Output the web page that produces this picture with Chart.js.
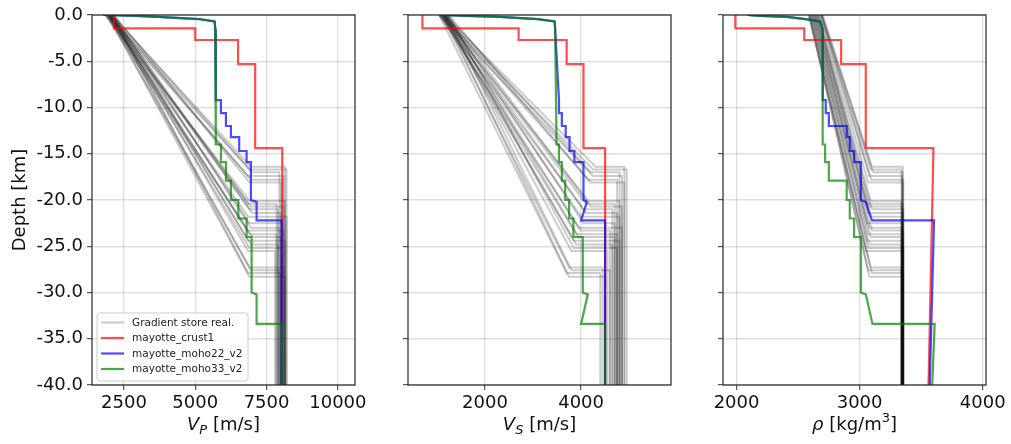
<!DOCTYPE html>
<html>
<head>
<meta charset="utf-8">
<script src="https://cdn.jsdelivr.net/npm/chart.js@4/dist/chart.umd.min.js"></script>
<style>
  html, body { margin: 0; padding: 0; background: #fff; }
  #wrap { position: relative; width: 1011px; height: 444px; }
  #wrap canvas { position: absolute; left: 0; top: 0; }
</style>
</head>
<body>
<div id="wrap">
  <canvas id="vpChart" width="1011" height="444"></canvas>
  <canvas id="vsChart" width="1011" height="444"></canvas>
  <canvas id="rhoChart" width="1011" height="444"></canvas>
</div>
<script>
// ---------- ticks ----------
const depthTicks = [0, -5, -10, -15, -20, -25, -30, -35, -40];
const vpTicks = [2500, 5000, 7500, 10000];
const vsTicks = [2000, 4000];
const rhoTicks = [2000, 3000, 4000];

// ---------- gradient store realisations (one entry per realisation) ----------
const realMohoDepth = [16.4, 16.7, 17.0, 17.4, 17.8, 18.1, 20.1, 20.4, 20.7, 21.0, 21.4, 21.8, 22.5,
  23.0, 23.3, 23.7, 24.0, 24.4, 24.8, 25.2, 25.5, 27.3, 27.6, 27.9, 28.3];
const realVpTop = [2050, 1950, 2100, 1900, 2000, 2150, 1850, 2050, 1950, 2100, 2000, 1900, 2050,
  2150, 1950, 2000, 1850, 2100, 2000, 1950, 2050, 1900, 2000, 2100, 1950];
const realVpMoho = [6950, 6900, 7000, 6850, 6950, 6900, 6900, 6850, 6950, 6900, 7000, 6850, 6900,
  6950, 6850, 6900, 7000, 6850, 6950, 6900, 6850, 6900, 6950, 6850, 6900];
const realVpMantle = [8150, 8200, 7950, 8100, 8050, 8000, 8150, 7850, 8100, 7900, 8000, 8200, 8050,
  7950, 8100, 7850, 8000, 8150, 7900, 8050, 7800, 8100, 7950, 8000, 8150];
const realVsTop = [1150, 1100, 1200, 1050, 1150, 1250, 1100, 1150, 1200, 1050, 1150, 1100, 1200,
  1150, 1050, 1100, 1200, 1150, 1100, 1250, 1150, 1100, 1200, 1050, 1150];
const realVsMoho = [4300, 4250, 4200, 4250, 4150, 4200, 4150, 4100, 4200, 4050, 4100, 4000, 4050,
  3950, 4000, 3900, 3950, 3850, 3900, 3850, 3800, 3750, 3800, 3700, 3750];
const realVsMantle = [4900, 4950, 4800, 4850, 4750, 4900, 4800, 4700, 4850, 4650, 4750, 4800, 4700,
  4850, 4600, 4750, 4700, 4800, 4650, 4750, 4550, 4450, 4600, 4400, 4500];
const realRhoTop = [2700, 2690, 2695, 2685, 2690, 2680, 2670, 2660, 2665, 2650, 2655, 2640, 2645,
  2630, 2635, 2625, 2620, 2615, 2610, 2605, 2600, 2595, 2590, 2585, 2590];
const realRhoMoho = [3100, 3090, 3110, 3080, 3095, 3070, 3090, 3060, 3080, 3100, 3070, 3090, 3060,
  3080, 3100, 3070, 3090, 3060, 3080, 3070, 3050, 3090, 3070, 3100, 3080];
const realRhoMantle = [3350, 3340, 3350, 3345, 3355, 3350, 3340, 3350, 3345, 3355, 3350, 3340, 3350,
  3345, 3355, 3350, 3340, 3350, 3345, 3355, 3350, 3340, 3350, 3345, 3355];

// ---------- mayotte_crust1 ----------
const crust1Depth = [0, 1.45, 1.45, 2.7, 2.7, 5.3, 5.3, 14.4, 14.4, 40];
const crust1Vp = [2150, 2150, 5000, 5000, 6500, 6500, 7100, 7100, 8050, 8050];
const crust1Vs = [700, 700, 2700, 2700, 3700, 3700, 4050, 4050, 4500, 4500];
const crust1Rho = [1990, 1990, 2550, 2550, 2850, 2850, 3050, 3050, 3600, 3560];

// ---------- mayotte_moho22_v2 ----------
const moho22Depth = [0, 0.1, 0.2, 0.45, 0.7, 1.5, 9.2, 9.2, 10.6, 10.6, 12.0, 12.0, 13.2, 13.2,
  14.7, 14.7, 15.9, 15.9, 20.0, 20.2, 22.2, 22.2, 40];
const moho22Vp = [1780, 2900, 3700, 5150, 5680, 5700, 5720, 5900, 5900, 6075, 6075, 6250, 6250, 6540,
  6540, 6800, 6800, 6950, 6950, 7150, 7150, 8030, 8030];
const moho22Vs = [1060, 1620, 2310, 3100, 3450, 3460, 3540, 3540, 3540, 3600, 3600, 3680, 3680, 3760,
  3760, 3860, 3860, 4050, 4050, 4120, 4000, 4500, 4500];
const moho22Rho = [2090, 2190, 2410, 2560, 2680, 2700, 2700, 2725, 2725, 2750, 2750, 2895, 2895, 2920,
  2920, 2955, 2955, 3010, 3010, 3050, 3100, 3605, 3570];

// ---------- mayotte_moho33_v2 ----------
const moho33Depth = [0, 0.1, 0.2, 0.45, 0.7, 1.5, 14.0, 14.0, 15.9, 15.9, 17.9, 17.9, 20.0, 20.0,
  22.0, 22.0, 24.0, 24.0, 30.0, 30.2, 33.4, 33.4, 40];
const moho33Vp = [1780, 2900, 3700, 5150, 5680, 5700, 5720, 5900, 5900, 6075, 6075, 6250, 6250, 6510,
  6510, 6800, 6800, 6975, 6975, 7150, 7150, 8030, 8050];
const moho33Vs = [1060, 1620, 2310, 3100, 3450, 3460, 3490, 3540, 3540, 3600, 3600, 3670, 3670, 3750,
  3750, 3840, 3840, 4035, 4035, 4140, 4000, 4500, 4500];
const moho33Rho = [2090, 2190, 2410, 2560, 2680, 2700, 2700, 2720, 2720, 2750, 2750, 2895, 2895, 2920,
  2920, 2955, 2955, 3010, 3010, 3050, 3105, 3610, 3590];

const legendLabels = ["Gradient store real.", "mayotte_crust1", "mayotte_moho22_v2", "mayotte_moho33_v2"];

// ---------- styles ----------
const GREY = "rgba(0,0,0,0.2)";
const RED = "rgba(255,0,0,0.7)";
const BLUE = "rgba(0,0,255,0.7)";
const GREEN = "rgba(0,128,0,0.7)";
const FONT = "'DejaVu Sans', sans-serif";

Chart.defaults.font.family = FONT;
Chart.defaults.font.size = 18;
Chart.defaults.color = "#111";

function profile(label, color, depths, values) {
  return {
    label, borderColor: color, backgroundColor: color, borderWidth: 2.2,
    showLine: true, pointRadius: 0, tension: 0,
    data: values.map((v, i) => ({ x: v, y: -depths[i] })),
  };
}

function realizations(top, moho, mantle) {
  return realMohoDepth.map((d, i) => ({
    label: i === 0 ? legendLabels[0] : "",
    borderColor: GREY, backgroundColor: GREY, borderWidth: 2,
    showLine: true, pointRadius: 0, tension: 0,
    data: [
      { x: top[i], y: 0 },
      { x: moho[i], y: -d },
      { x: mantle[i], y: -d },
      { x: mantle[i], y: -40 },
    ],
  }));
}

// first dataset is drawn on top
function buildDatasets(c1, m22, m33, top, moho, mantle) {
  return [
    profile(legendLabels[3], GREEN, moho33Depth, m33),
    profile(legendLabels[2], BLUE, moho22Depth, m22),
    profile(legendLabels[1], RED, crust1Depth, c1),
    ...realizations(top, moho, mantle),
  ];
}

const framePlugin = {
  id: "frame",
  afterDraw(chart) {
    const { ctx, chartArea: a } = chart;
    ctx.save();
    ctx.strokeStyle = "#262626";
    ctx.lineWidth = 1.2;
    ctx.strokeRect(a.left, a.top, a.right - a.left, a.bottom - a.top);
    ctx.restore();
  },
};

// axis titles with sub/superscripts
function titlePlugin(parts, yTitle) {
  return {
    id: "titles",
    afterDraw(chart) {
      const { ctx, chartArea: a } = chart;
      const fontOf = (p) => `${p.italic ? "italic " : ""}${p.sub || p.sup ? 13 : 18}px ${FONT}`;
      ctx.save();
      ctx.fillStyle = "#111";
      ctx.textBaseline = "alphabetic";
      ctx.textAlign = "left";
      let w = 0;
      parts.forEach((p) => { ctx.font = fontOf(p); w += ctx.measureText(p.t).width; });
      let x = (a.left + a.right) / 2 - w / 2;
      parts.forEach((p) => {
        ctx.font = fontOf(p);
        const dy = p.sub ? 4 : p.sup ? -8 : 0;
        ctx.fillText(p.t, x, 430 + dy);
        x += ctx.measureText(p.t).width;
      });
      if (yTitle) {
        ctx.translate(25, (a.top + a.bottom) / 2);
        ctx.rotate(-Math.PI / 2);
        ctx.textAlign = "center";
        ctx.font = `18px ${FONT}`;
        ctx.fillText(yTitle, 0, 0);
      }
      ctx.restore();
    },
  };
}

// framed legend in the lower-left corner of the first panel
const legendPlugin = {
  id: "boxLegend",
  afterDraw(chart) {
    const { ctx, chartArea: a } = chart;
    const colors = [GREY, RED, BLUE, GREEN];
    const x0 = a.left + 5, y0 = a.bottom - 72, w = 151, h = 68;
    ctx.save();
    ctx.beginPath();
    ctx.roundRect(x0, y0, w, h, 3);
    ctx.fillStyle = "rgba(255,255,255,0.8)";
    ctx.fill();
    ctx.strokeStyle = "rgba(200,200,200,0.9)";
    ctx.lineWidth = 1;
    ctx.stroke();
    ctx.font = `10.5px ${FONT}`;
    ctx.textBaseline = "middle";
    legendLabels.forEach((lab, i) => {
      const y = y0 + 9.5 + i * 15.5;
      ctx.strokeStyle = colors[i];
      ctx.lineWidth = 2.2;
      ctx.beginPath();
      ctx.moveTo(x0 + 4, y);
      ctx.lineTo(x0 + 27, y);
      ctx.stroke();
      ctx.fillStyle = "#222";
      ctx.fillText(lab, x0 + 35, y + 0.5);
    });
    ctx.restore();
  },
};

function makeOptions(xMin, xMax, xTicks, padLeft, padRight, yWidth, showY) {
  const grid = { color: "rgba(0,0,0,0.12)", lineWidth: 1.4, tickLength: 5, tickColor: "#333", tickWidth: 1 };
  return {
    responsive: false,
    animation: false,
    layout: { padding: { left: padLeft, right: padRight, top: 15, bottom: 0 } },
    plugins: { legend: { display: false }, tooltip: { enabled: false } },
    scales: {
      x: {
        type: "linear", min: xMin, max: xMax,
        afterBuildTicks: (s) => { s.ticks = xTicks.map((v) => ({ value: v })); },
        afterFit: (s) => { s.height = 59; },
        ticks: { padding: 3, callback: (v) => String(v) },
        grid, border: { display: false },
      },
      y: {
        type: "linear", min: -40, max: 0,
        afterBuildTicks: (s) => { s.ticks = depthTicks.map((v) => ({ value: v })); },
        afterFit: (s) => { s.width = yWidth; },
        ticks: { display: showY, padding: 4, callback: (v) => v.toFixed(1) },
        grid, border: { display: false },
      },
    },
  };
}

new Chart(document.getElementById("vpChart"), {
  type: "scatter",
  data: { datasets: buildDatasets(crust1Vp, moho22Vp, moho33Vp, realVpTop, realVpMoho, realVpMantle) },
  options: makeOptions(1380, 10600, vpTicks, 0, 656, 92, true),
  plugins: [framePlugin, legendPlugin,
    titlePlugin([{ t: "V", italic: true }, { t: "P", italic: true, sub: true }, { t: " [m/s]" }], "Depth [km]")],
});

new Chart(document.getElementById("vsChart"), {
  type: "scatter",
  data: { datasets: buildDatasets(crust1Vs, moho22Vs, moho33Vs, realVsTop, realVsMoho, realVsMantle) },
  options: makeOptions(400, 5870, vsTicks, 400, 340, 8, false),
  plugins: [framePlugin,
    titlePlugin([{ t: "V", italic: true }, { t: "S", italic: true, sub: true }, { t: " [m/s]" }])],
});

new Chart(document.getElementById("rhoChart"), {
  type: "scatter",
  data: { datasets: buildDatasets(crust1Rho, moho22Rho, moho33Rho, realRhoTop, realRhoMoho, realRhoMantle) },
  options: makeOptions(1890, 4027, rhoTicks, 715, 25, 8, false),
  plugins: [framePlugin,
    titlePlugin([{ t: "ρ", italic: true }, { t: " [kg/m" }, { t: "3", sup: true }, { t: "]" }])],
});
</script>
</body>
</html>
